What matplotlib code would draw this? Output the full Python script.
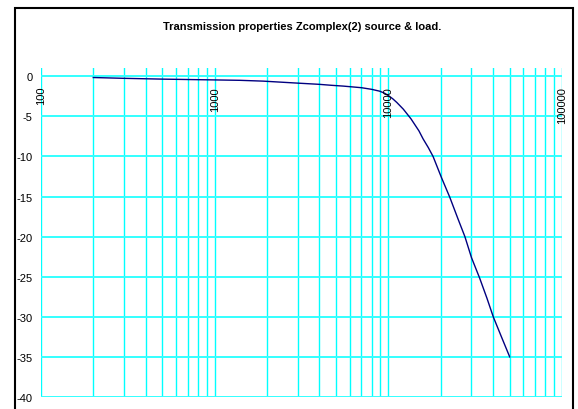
import matplotlib.pyplot as plt
from matplotlib import font_manager as fm
from matplotlib.patches import Rectangle

# pick the regular (not Narrow) Liberation Sans files
reg = [f.fname for f in fm.fontManager.ttflist
       if f.name == 'Liberation Sans' and 'Narrow' not in f.fname]
for p in reg:
    fm.fontManager.addfont(p)
plt.rcParams['font.family'] = ['Liberation Sans', 'DejaVu Sans']
plt.rcParams['font.stretch'] = 'normal'

# frequency (Hz) and response (dB)
freq = [200, 300, 500, 700, 1000, 1400, 1900, 2900, 4000, 4700, 5500, 7000,
        8000, 8900, 9500, 10000, 10600, 11200, 12200, 13500, 15000, 15850,
        17000, 18100, 20200, 22600, 25200, 27600, 30100, 33600, 37000, 40200,
        45000, 50000]
gain = [-0.15, -0.25, -0.35, -0.4, -0.45, -0.5, -0.6, -0.83, -1.0, -1.12,
        -1.22, -1.42, -1.62, -1.85, -2.1, -2.4, -2.8, -3.27, -4.1, -5.3,
        -6.8, -7.8, -8.9, -10.0, -12.6, -15.1, -17.8, -20.0, -22.6, -25.2,
        -27.7, -30.0, -32.6, -35.0]

xtick_vals = [100, 1000, 10000, 100000]
xtick_labels = ['100', '1000', '10000', '100000']
ytick_vals = [0, -5, -10, -15, -20, -25, -30, -35, -40]

W, H = 578, 410
fig = plt.figure(figsize=(W / 100, H / 100), dpi=100)
# chart area border (runs off the bottom of the image)
fig.patches.append(Rectangle((15 / W, -0.05), (573 - 15) / W, 1.05 - 9 / H,
                             transform=fig.transFigure, fill=False,
                             edgecolor='black', lw=1.5))

ax = fig.add_axes([41 / W, (H - 398) / H, (562 - 41) / W, (398 - 69.3) / H])
ax.set_xscale('log')
ax.set_xlim(100, 100000)
ax.set_ylim(-40, 1)

# cyan grid
ax.grid(True, which='both', axis='x', color='#00FFFF', lw=1)
ax.grid(True, which='major', axis='y', color='#33FFFF', lw=1.4)
for s in ax.spines.values():
    s.set_visible(False)

ax.plot(freq, gain, color='#000080', lw=1)

ax.set_yticks(ytick_vals)
ax.set_yticklabels([str(v) for v in ytick_vals], fontsize=8)
ax.tick_params(axis='y', length=0, pad=6)
ax.set_xticks(xtick_vals)
ax.set_xticklabels([])
ax.tick_params(axis='x', which='both', length=0)
for v, lab in zip(xtick_vals, xtick_labels):
    ax.text(v, -1.2, lab, rotation=90, ha='center', va='top', fontsize=8)

fig.text(302 / W, 1 - 27.5 / H, 'Transmission properties Zcomplex(2) source & load.',
         ha='center', va='center', fontsize=8, fontweight='bold')

fig.savefig('out.png', dpi=100)
